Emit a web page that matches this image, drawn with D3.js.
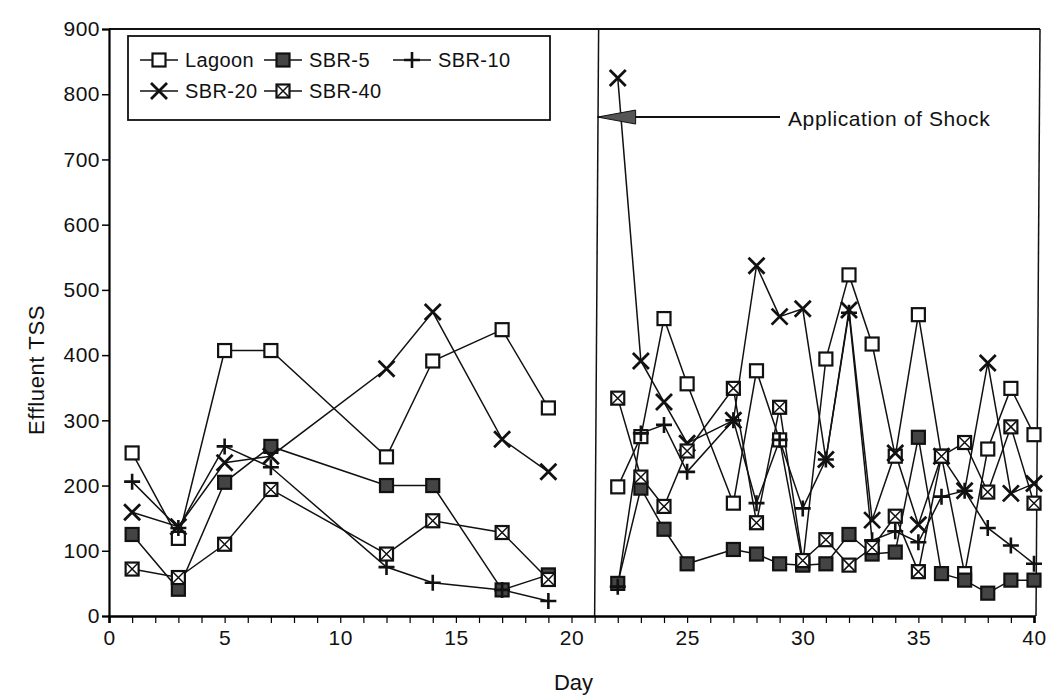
<!doctype html>
<html lang="en">
<head>
<meta charset="utf-8">
<script src="https://d3js.org/d3.v7.min.js"></script>
<style type="text/css">
    body { margin: 0; padding: 0; background: #fff; }
    svg { display: block; }
    text { font-family: "Liberation Sans", Arial, Helvetica, sans-serif; fill: #111; }
    .tick-label { font-size: 21px; letter-spacing: 0.5px; }
    .series-line { fill: none; stroke: #111; stroke-width: 1.5px; }
</style>
</head>
<body>
<div id="chart"></div>
<script type="text/javascript">

    // sampling days (no sample at day 21 = shock, none at day 26)
    var days = [1, 3, 5, 7, 12, 14, 17, 19,
        22, 23, 24, 25, 27, 28, 29, 30, 31, 32, 33, 34, 35, 36, 37, 38, 39, 40];

    var lagoon = [250, 119, 407, 407, 244, 391, 439, 319,
        198, 275, 456, 356, 173, 376, 270, 80, 394, 523, 417, 245, 462, 245, 65, 256, 349, 278];
    var sbr5 = [125, 41, 205, 260, 200, 200, 40, 63,
        50, 196, 133, 80, 102, 95, 80, 78, 80, 125, 95, 98, 274, 65, 55, 35, 55, 55];
    var sbr10 = [206, 135, 260, 228, 75, 51, 40, 23,
        45, 280, 293, 221, 300, 173, 270, 165, 240, 465, 116, 130, 113, 183, 192, 135, 108, 80];
    var sbr20 = [159, 137, 235, 245, 379, 466, 271, 221,
        825, 391, 328, 265, 300, 537, 459, 471, 240, 469, 147, 250, 140, 245, 192, 388, 188, 203];
    var sbr40 = [72, 59, 110, 194, 95, 146, 128, 56,
        334, 213, 168, 253, 349, 143, 320, 85, 117, 78, 105, 153, 68, 245, 266, 190, 290, 173];

    var shockDay = 21;
    var shockValue = 765;
    var yTicks = [0, 100, 200, 300, 400, 500, 600, 700, 800, 900];
    var xTickLabels = [0, 5, 10, 15, 20, 25, 30, 35, 40];

    var series = [
        { name: "Lagoon", values: lagoon, marker: "open" },
        { name: "SBR-5", values: sbr5, marker: "filled" },
        { name: "SBR-10", values: sbr10, marker: "plus" },
        { name: "SBR-20", values: sbr20, marker: "cross" },
        { name: "SBR-40", values: sbr40, marker: "boxcross" }
    ];

    var width = 1049, height = 696;
    var x = d3.scaleLinear().domain([0, 40]).range([109, 1034]);
    var y = d3.scaleLinear().domain([0, 900]).range([616, 29]);

    var svg = d3.select("#chart").append("svg")
        .attr("width", width)
        .attr("height", height);

    // frame
    svg.append("line").attr("x1", x(0)).attr("x2", x(40) + 6).attr("y1", y(900)).attr("y2", y(900))
        .attr("stroke", "#111").attr("stroke-width", 2.2);
    svg.append("line").attr("x1", x(40) + 6).attr("x2", x(40) + 2).attr("y1", y(900)).attr("y2", y(0))
        .attr("stroke", "#111").attr("stroke-width", 1.5);
    svg.append("line").attr("x1", x(shockDay) + 4).attr("x2", x(shockDay)).attr("y1", y(900)).attr("y2", y(0))
        .attr("stroke", "#111").attr("stroke-width", 1.5);

    // axes
    var yAxis = d3.axisLeft(y).tickValues(yTicks).tickSize(7).tickPadding(2);
    var gy = svg.append("g").attr("transform", "translate(" + x(0) + ",0)").call(yAxis);
    gy.select(".domain").attr("stroke-width", 2.2);
    gy.selectAll(".tick line").attr("stroke-width", 1.5);
    gy.selectAll("text").attr("class", "tick-label").attr("fill", "#111");

    var xMinor = d3.axisBottom(x).ticks(40).tickSize(7).tickFormat("");
    var gxm = svg.append("g").attr("transform", "translate(0," + y(0) + ")").call(xMinor);
    gxm.select(".domain").attr("stroke-width", 2.6);
    gxm.selectAll(".tick line").attr("stroke-width", 1.2);

    var xAxis = d3.axisBottom(x).tickValues(xTickLabels).tickSize(0).tickPadding(14);
    var gx = svg.append("g").attr("transform", "translate(0," + y(0) + ")").call(xAxis);
    gx.select(".domain").remove();
    gx.selectAll("text").attr("class", "tick-label").attr("fill", "#111");

    svg.append("text")
        .attr("x", (x(0) + x(40)) / 2 + 2).attr("y", 690)
        .attr("text-anchor", "middle")
        .style("font-size", "22px")
        .text("Day");

    svg.append("text")
        .attr("transform", "translate(44," + 370 + ") rotate(-90)")
        .attr("text-anchor", "middle")
        .style("font-size", "22px")
        .style("letter-spacing", "0.6px")
        .text("Effluent TSS");

    // lines, drawn separately before and after the shock
    var line = d3.line()
        .x(function (d) { return x(d.day); })
        .y(function (d) { return y(d.v); });

    series.forEach(function (s) {
        var pts = days.map(function (d, i) { return { day: d, v: s.values[i] }; });
        var before = pts.filter(function (p) { return p.day < shockDay; });
        var after = pts.filter(function (p) { return p.day > shockDay; });
        [before, after].forEach(function (seg) {
            svg.append("path").datum(seg).attr("class", "series-line").attr("d", line);
        });
    });

    // markers
    function drawMarker(g, type, cx, cy) {
        var h = 6.5;
        if (type == "open" || type == "boxcross" || type == "filled") {
            g.append("rect")
                .attr("x", cx - h).attr("y", cy - h)
                .attr("width", 2 * h).attr("height", 2 * h)
                .attr("fill", type == "filled" ? "#444" : "#fff")
                .attr("stroke", "#111").attr("stroke-width", 2.2);
            if (type == "boxcross") {
                g.append("path")
                    .attr("d", "M" + (cx - h) + "," + (cy - h) + "L" + (cx + h) + "," + (cy + h) +
                        "M" + (cx + h) + "," + (cy - h) + "L" + (cx - h) + "," + (cy + h))
                    .attr("stroke", "#111").attr("stroke-width", 1.5);
            }
        } else if (type == "plus") {
            var p = 8;
            g.append("path")
                .attr("d", "M" + (cx - p) + "," + cy + "L" + (cx + p) + "," + cy +
                    "M" + cx + "," + (cy - p) + "L" + cx + "," + (cy + p))
                .attr("stroke", "#111").attr("stroke-width", 2.6);
        } else if (type == "cross") {
            var c = 8;
            g.append("path")
                .attr("d", "M" + (cx - c) + "," + (cy - c) + "L" + (cx + c) + "," + (cy + c) +
                    "M" + (cx + c) + "," + (cy - c) + "L" + (cx - c) + "," + (cy + c))
                .attr("stroke", "#111").attr("stroke-width", 2.8);
        }
    }

    var markerLayer = svg.append("g");
    series.forEach(function (s) {
        days.forEach(function (d, i) {
            drawMarker(markerLayer, s.marker, x(d), y(s.values[i]));
        });
    });

    // shock annotation
    var ay = y(shockValue);
    var ax = x(shockDay) + 3;
    svg.append("line")
        .attr("x1", ax).attr("x2", 780).attr("y1", ay).attr("y2", ay)
        .attr("stroke", "#111").attr("stroke-width", 2);
    svg.append("path")
        .attr("d", "M" + ax + "," + ay + "L" + (ax + 38) + "," + (ay - 7) +
            "L" + (ax + 38) + "," + (ay + 7) + "Z")
        .attr("fill", "#555").attr("stroke", "#111").attr("stroke-width", 1);
    svg.append("text")
        .attr("x", 788).attr("y", ay + 9)
        .style("font-size", "21px")
        .style("letter-spacing", "0.6px")
        .text("Application of Shock");

    // legend
    var legend = svg.append("g");
    legend.append("rect")
        .attr("x", 128).attr("y", 36).attr("width", 422).attr("height", 84)
        .attr("fill", "#fff").attr("stroke", "#111").attr("stroke-width", 1.8);

    var legendPos = [
        { x: 140, y: 60 }, { x: 264, y: 60 }, { x: 393, y: 60 },
        { x: 140, y: 91 }, { x: 264, y: 91 }
    ];
    series.forEach(function (s, i) {
        var p = legendPos[i];
        var g = legend.append("g");
        g.append("line").attr("x1", p.x).attr("x2", p.x + 38).attr("y1", p.y).attr("y2", p.y)
            .attr("stroke", "#111").attr("stroke-width", 1.6);
        drawMarker(g, s.marker, p.x + 19, p.y);
        g.append("text").attr("x", p.x + 45).attr("y", p.y + 7)
            .style("font-size", "20px")
            .style("letter-spacing", "0.4px")
            .text(s.name);
    });

</script>
</body>
</html>
